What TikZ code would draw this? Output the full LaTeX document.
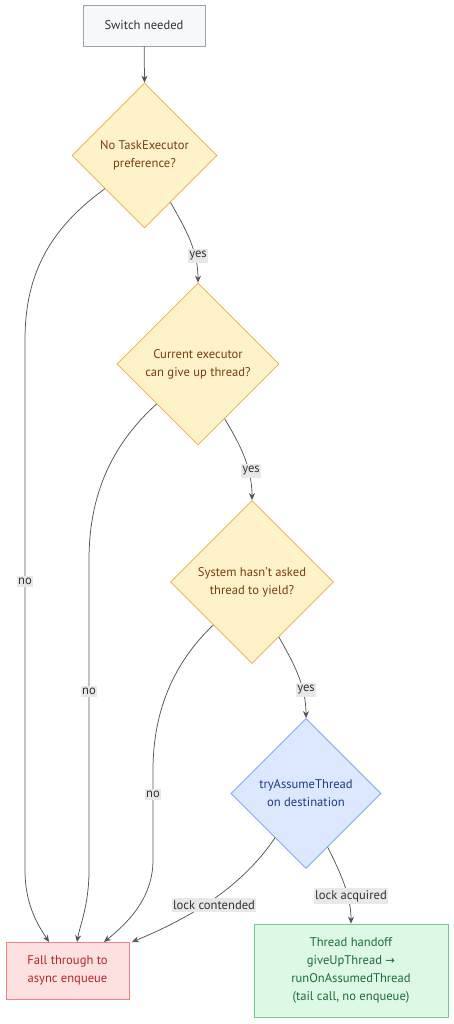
\documentclass[tikz,border=0pt]{standalone}
\usepackage{fontspec}
\setmainfont{PT Sans}
\newfontfamily\symfont{DejaVu Sans}
\usetikzlibrary{shapes.geometric,arrows.meta}
\definecolor{startfill}{HTML}{F7F8FA}
\definecolor{startdraw}{HTML}{9CA3AD}
\definecolor{yfill}{HTML}{FEF2C8}
\definecolor{ydraw}{HTML}{EFAA4C}
\definecolor{ytext}{HTML}{7A3D14}
\definecolor{bfill}{HTML}{DBE8FD}
\definecolor{bdraw}{HTML}{6AA0F5}
\definecolor{btext}{HTML}{1E3A8A}
\definecolor{rfill}{HTML}{FDE1E1}
\definecolor{rdraw}{HTML}{EE8585}
\definecolor{rtext}{HTML}{B3262A}
\definecolor{gfill}{HTML}{DDF9E6}
\definecolor{gdraw}{HTML}{6DCF8F}
\definecolor{gtext}{HTML}{1E6B3A}
\definecolor{edgec}{HTML}{555555}
\definecolor{lblbg}{HTML}{E8E8E8}
\tikzset{
  base/.style={font=\fontsize{12.6}{18}\selectfont, align=center, inner sep=0pt, line width=0.8pt},
  startbox/.style={base, rectangle, draw=startdraw, fill=startfill, text=black!80, minimum width=122pt, minimum height=41pt},
  ydia/.style={base, diamond, aspect=1, draw=ydraw, fill=yfill, text=ytext},
  bdia/.style={base, diamond, aspect=1, draw=bdraw, fill=bfill, text=btext},
  redbox/.style={base, rectangle, draw=rdraw, fill=rfill, text=rtext, minimum width=123pt, minimum height=57pt},
  greenbox/.style={base, rectangle, draw=gdraw, fill=gfill, text=gtext, minimum width=194pt, minimum height=93pt},
  conn/.style={draw=edgec, line width=0.75pt, -{Stealth[length=7pt,width=6pt]}},
  lbl/.style={font=\fontsize{12.6}{14}\selectfont, fill=lblbg, text=black!80, inner xsep=1.5pt, inner ysep=2.2pt}
}
\begin{document}
\begin{tikzpicture}[x=1pt,y=-1pt]
\useasboundingbox[fill=white] (0,0) rectangle (454,1024);
\node[startbox] (start) at (144,25.5) {Switch needed};
\node[ydia, minimum width=145pt, minimum height=145pt] (d1) at (144.5,155.5) {No TaskExecutor\\preference?};
\node[ydia, minimum width=162pt, minimum height=162pt] (d2) at (198,364) {Current executor\\can give up thread?};
\node[ydia, minimum width=163pt, minimum height=163pt] (d3) at (252,582) {System hasn't asked\\thread to yield?};
\node[bdia, minimum width=150pt, minimum height=150pt] (d4) at (306,793.5) {tryAssumeThread\\on destination};
\node[redbox] (fall) at (67.5,970.5) {Fall through to\\async enqueue};
\node[greenbox] (hand) at (351,970.5) {Thread handoff\\giveUpThread {\symfont\fontsize{11.5}{18}\selectfont →}\\runOnAssumedThread\\(tail call, no enqueue)};

\coordinate (f1) at (49,942);
\coordinate (f2) at (77,942);
\coordinate (f3) at (104,942);
\coordinate (f4) at (132,942);

\draw[conn] (start) -- (d1.north);
\draw[conn] (d1.-61) .. controls (185,228) and (198,250) .. (d2.north);
\draw[conn] (d2.-64) .. controls (239,443) and (252,466) .. (d3.north);
\draw[conn] (d3.-64) .. controls (293,662) and (306,685) .. (d4.north);
\draw[conn] (d4.-68) .. controls (340,872) and (351,895) .. (hand.north);
\draw[conn] (d1.220) .. controls (45,232) and (25,280) .. (25,340) -- (25,870) .. controls (25,905) and (38,925) .. (f1);
\draw[conn] (d2.224) .. controls (108,448) and (89,500) .. (89,560) -- (89,870) .. controls (89,905) and (80,925) .. (f2);
\draw[conn] (d3.228) .. controls (168,668) and (153,720) .. (153,770) -- (153,860) .. controls (153,900) and (125,925) .. (f3);
\draw[conn] (d4.235) .. controls (240,890) and (185,920) .. (f4);

\node[lbl] (l1) at (198,256) {yes};
\node[lbl] (l2) at (251,471) {yes};
\node[lbl] (l3) at (306,690) {yes};
\node[lbl] (l4) at (25,581) {no};
\node[lbl] (l5) at (89,691) {no};
\node[lbl] (l6) at (153,794) {no};
\node[lbl] (l7) at (214,905) {lock contended};
\node[lbl] (l8) at (351,896) {lock acquired};
\end{tikzpicture}
\end{document}
